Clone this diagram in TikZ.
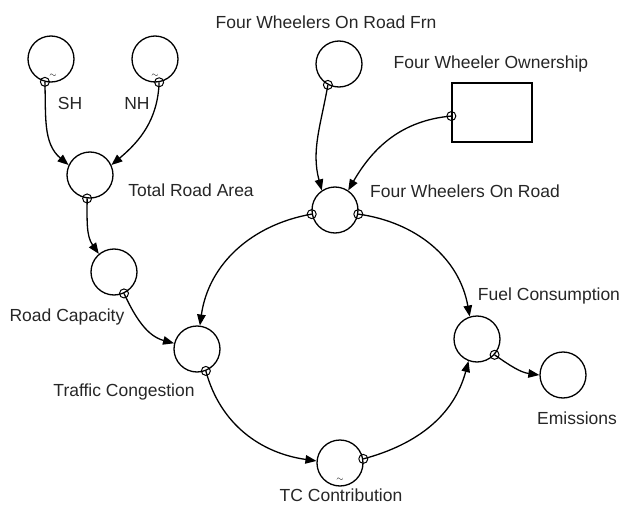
\documentclass[tikz,border=0pt]{standalone}
\usepackage{fontspec}
\setmainfont{Liberation Sans}
\usetikzlibrary{arrows.meta}
\begin{document}
\begin{tikzpicture}[x=1pt,y=1pt,
  var/.style={circle,draw,line width=1.3pt,minimum size=46pt,inner sep=0pt},
  stock/.style={rectangle,draw,line width=1.3pt,minimum width=80pt,minimum height=59pt,inner sep=0pt},
  smallo/.style={circle,draw,line width=1pt,minimum size=9pt,inner sep=0pt},
  lbl/.style={text=black!85,font=\fontsize{17.5}{20}\selectfont,inner sep=0pt},
  tld/.style={font=\fontsize{9}{9}\selectfont,inner sep=0pt},
  link/.style={line width=1.3pt,-{Triangle[length=11pt,width=8.5pt]}}]
\useasboundingbox (0,0) rectangle (622,-514);
% variables
\node[var] (SH) at (51,-59) {};
\node[var] (NH) at (155,-59) {};
\node[var] (TRA) at (90,-175) {};
\node[var] (RC) at (114,-272) {};
\node[var] (TC) at (197,-349) {};
\node[var] (TCC) at (340,-463) {};
\node[var] (FC) at (477,-339) {};
\node[var] (EM) at (563,-375) {};
\node[var] (FRN) at (339,-64) {};
\node[var] (FWOR) at (335,-210) {};
\node[stock] (OWN) at (492,-112.5) {};
% tildes
\node[tld] (t1) at (53,-76) {$\sim$};
\node[tld] (t2) at (155,-76) {$\sim$};
\node[tld] (t3) at (340,-480) {$\sim$};
% small connector circles
\node[smallo] (oSH) at (SH.-105) {};
\node[smallo] (oNH) at (NH.-80) {};
\node[smallo] (oTRA) at (TRA.-97) {};
\node[smallo] (oRC) at (RC.-65) {};
\node[smallo] (oTC) at (TC.-68) {};
\node[smallo] (oTCC) at (TCC.10) {};
\node[smallo] (oFC) at (FC.-42) {};
\node[smallo] (oFRN) at (FRN.-118) {};
\node[smallo] (oFL) at (FWOR.190) {};
\node[smallo] (oFR) at (FWOR.-10) {};
\node[smallo] (oOWN) at (OWN.185) {};
% links
\draw[link] (oSH.center) to[out=-88,in=140] (TRA.155);
\draw[link] (oNH.center) to[out=-92,in=40] (TRA.25);
\draw[link] (oTRA.center) to[out=-90,in=125] (RC.130);
\draw[link] (oRC.center) to[out=-65,in=165] (TC.166);
\draw[link] (oFL.center) to[out=190,in=82] (TC.83);
\draw[link] (oTC.center) to[out=-75,in=172] (TCC.175);
\draw[link] (oTCC.center) to[out=15,in=-105] (FC.-111);
\draw[link] (oFR.center) to[out=-8,in=100] (FC.108);
\draw[link] (oFC.center) to[out=-35,in=172] (EM.180);
\draw[link] (oFRN.center) to[out=-100,in=105] (FWOR.124);
\draw[link] (oOWN.center) to[out=185,in=60] (FWOR.56);
% labels
\node[lbl] (lSH) at (70,-103) {SH};
\node[lbl] (lNH) at (137,-103) {NH};
\node[lbl] (lTRA) at (191,-190) {Total Road Area};
\node[lbl] (lRC) at (67,-317) {Road Capacity};
\node[lbl] (lTC) at (124,-392) {Traffic Congestion};
\node[lbl] (lTCC) at (341,-495) {TC Contribution};
\node[lbl] (lFC) at (549,-296) {Fuel Consumption};
\node[lbl] (lEM) at (577,-418) {Emissions};
\node[lbl] (lFRN) at (326,-22) {Four Wheelers On Road Frn};
\node[lbl] (lOWN) at (491,-64) {Four Wheeler Ownership};
\node[lbl] (lFWOR) at (465,-191) {Four Wheelers On Road};
\end{tikzpicture}
\end{document}
